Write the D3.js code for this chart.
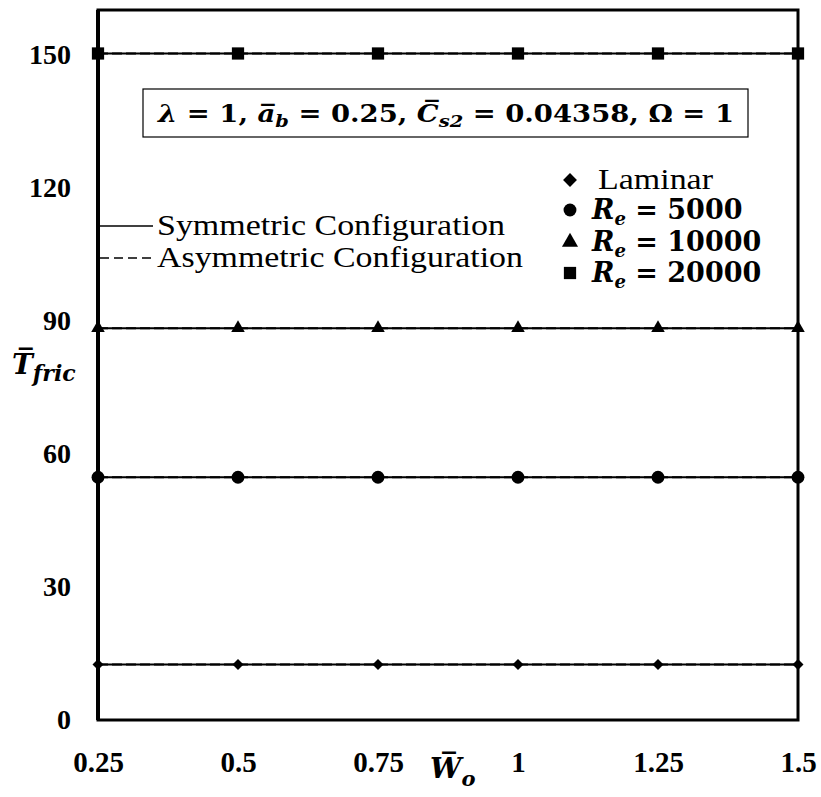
<!DOCTYPE html>
<html>
<head>
<meta charset="utf-8">
<script src="https://cdn.jsdelivr.net/npm/d3@7"></script>
<style>
  body { margin: 0; background: #fff; }
  svg { display: block; }
</style>
</head>
<body>
<div id="chart"></div>
<script>
// data
const wo = [0.25, 0.5, 0.75, 1, 1.25, 1.5]
const laminarSym = [12.5, 12.5, 12.5, 12.5, 12.5, 12.5]
const laminarAsym = [12.5, 12.5, 12.5, 12.5, 12.5, 12.5]
const re5000Sym = [54.7, 54.7, 54.7, 54.7, 54.7, 54.7]
const re5000Asym = [54.7, 54.7, 54.7, 54.7, 54.7, 54.7]
const re10000Sym = [88.3, 88.3, 88.3, 88.3, 88.3, 88.3]
const re10000Asym = [88.3, 88.3, 88.3, 88.3, 88.3, 88.3]
const re20000Sym = [150.2, 150.2, 150.2, 150.2, 150.2, 150.2]
const re20000Asym = [150.2, 150.2, 150.2, 150.2, 150.2, 150.2]
const yTicks = [0, 30, 60, 90, 120, 150]
const xTicks = [0.25, 0.5, 0.75, 1, 1.25, 1.5]

const series = [
    {name: 'Laminar', sym: laminarSym, asym: laminarAsym, shape: 'diamond'},
    {name: '5000', sym: re5000Sym, asym: re5000Asym, shape: 'circle'},
    {name: '10000', sym: re10000Sym, asym: re10000Asym, shape: 'triangle'},
    {name: '20000', sym: re20000Sym, asym: re20000Asym, shape: 'square'}
]

const width = 821
const height = 797
const margin = {left: 98, right: 23, top: 10, bottom: 77}

const x = d3.scaleLinear().domain([0.25, 1.5]).range([margin.left, width - margin.right])
const y = d3.scaleLinear().domain([0, 160]).range([height - margin.bottom, margin.top])

const symbolFor = (shape, k = 1) => {
    if (shape === 'circle') return d3.symbol(d3.symbolCircle, 130 * k)
    if (shape === 'triangle') return d3.symbol(d3.symbolTriangle, 80 * k)
    if (shape === 'square') return d3.symbol(d3.symbolSquare, 150 * k)
    return d3.symbol(d3.symbolSquare, 60 * k)
}

const svg = d3.select('#chart').append('svg')
    .attr('width', width)
    .attr('height', height)

//axes
const yAxis = svg.append('g')
    .attr('transform', `translate(${margin.left},0)`)
    .call(d3.axisLeft(y).tickValues(yTicks).tickSize(0).tickPadding(27).tickFormat(d3.format('d')))
yAxis.select('.domain').remove()

const xAxis = svg.append('g')
    .attr('transform', `translate(0,${height - margin.bottom})`)
    .call(d3.axisBottom(x).tickValues(xTicks).tickSize(0).tickPadding(31).tickFormat((d) => d3.format('')(d)))
xAxis.select('.domain').remove()

svg.selectAll('.tick text')
    .attr('font-family', 'Liberation Serif')
    .attr('font-weight', 'bold')
    .attr('fill', '#000')
yAxis.selectAll('.tick text').attr('font-size', 28)
xAxis.selectAll('.tick text').attr('font-size', 29)

//lines
const line = d3.line()
    .x((d, i) => x(wo[i]))
    .y((d) => y(d))

series.forEach((s) => {
    svg.append('path')
        .datum(s.sym)
        .attr('d', line)
        .attr('fill', 'none')
        .attr('stroke', '#000')
        .attr('stroke-width', 2)
    svg.append('path')
        .datum(s.asym)
        .attr('d', line)
        .attr('fill', 'none')
        .attr('stroke', '#000')
        .attr('stroke-width', 2)
        .attr('stroke-dasharray', '10,4')
    svg.append('g')
        .selectAll('path')
        .data(s.sym)
        .enter()
        .append('path')
        .attr('d', symbolFor(s.shape))
        .attr('transform', (d, i) => `translate(${x(wo[i])},${y(d)})` + (s.shape === 'diamond' ? ' rotate(45)' : ''))
        .attr('fill', '#000')
})

//frame
svg.append('rect')
    .attr('x', x(0.25))
    .attr('y', y(160))
    .attr('width', x(1.5) - x(0.25))
    .attr('height', y(0) - y(160))
    .attr('fill', 'none')
    .attr('stroke', '#000')
    .attr('stroke-width', 3)
svg.append('line')
    .attr('x1', x(0.25)).attr('x2', x(0.25))
    .attr('y1', y(160)).attr('y2', y(0))
    .attr('stroke', '#000')
    .attr('stroke-width', 4)

//parameter box
svg.append('rect')
    .attr('x', 143).attr('y', 89)
    .attr('width', 605).attr('height', 48)
    .attr('fill', '#fff')
    .attr('stroke', '#000')
    .attr('stroke-width', 1.2)
const param = svg.append('text')
    .attr('x', 158).attr('y', 122)
    .attr('font-family', 'DejaVu Serif')
    .attr('font-weight', 'bold')
    .attr('font-size', 24)
    .attr('textLength', 576)
    .attr('lengthAdjust', 'spacingAndGlyphs')
param.append('tspan').attr('font-style', 'italic').text('λ')
param.append('tspan').text(' = 1, ')
param.append('tspan').attr('font-style', 'italic').text('a\u0305')
param.append('tspan').attr('font-style', 'italic').attr('font-size', 17).attr('dy', 5).text('b')
param.append('tspan').attr('dy', -5).text(' = 0.25, ')
param.append('tspan').attr('font-style', 'italic').text('C\u0305')
param.append('tspan').attr('font-style', 'italic').attr('font-size', 17).attr('dy', 5).text('s2')
param.append('tspan').attr('dy', -5).text(' = 0.04358, Ω = 1')

//configuration legend
const confLegend = [
    {label: 'Symmetric Configuration', dash: null, y: 226, len: 348},
    {label: 'Asymmetric Configuration', dash: '9,5', y: 258, len: 366}
]
confLegend.forEach((c) => {
    svg.append('line')
        .attr('x1', 100).attr('x2', 153)
        .attr('y1', c.y).attr('y2', c.y)
        .attr('stroke', '#000')
        .attr('stroke-width', 1.5)
        .attr('stroke-dasharray', c.dash)
    svg.append('text')
        .attr('x', 157).attr('y', c.y + 9)
        .attr('font-family', 'Liberation Serif')
        .attr('font-size', 29)
        .attr('textLength', c.len)
        .attr('lengthAdjust', 'spacingAndGlyphs')
        .text(c.label)
})

//marker legend
const legendY = [180, 210, 242, 273]
series.forEach((s, i) => {
    svg.append('path')
        .attr('d', symbolFor(s.shape, s.shape === 'diamond' ? 1.6 : s.shape === 'triangle' ? 1.4 : 1))
        .attr('transform', `translate(570,${legendY[i]})` + (s.shape === 'diamond' ? ' rotate(45)' : ''))
        .attr('fill', '#000')
    const t = svg.append('text')
        .attr('x', 592).attr('y', legendY[i] + 9)
        .attr('font-size', 27)
    if (s.shape === 'diamond') {
        t.attr('font-family', 'Liberation Serif').attr('font-size', 30).attr('x', 598).attr('y', legendY[i] + 9)
            .attr('textLength', 115).attr('lengthAdjust', 'spacingAndGlyphs').text('Laminar')
    } else {
        t.attr('font-family', 'DejaVu Serif').attr('font-weight', 'bold')
        t.append('tspan').attr('font-style', 'italic').text('R')
        t.append('tspan').attr('font-style', 'italic').attr('font-size', 18).attr('dy', 6).text('e')
        t.append('tspan').attr('dy', -6).text(' = ' + s.name)
    }
})

//axis titles
const yTitle = svg.append('text')
    .attr('x', 12).attr('y', 374)
    .attr('font-family', 'DejaVu Serif')
    .attr('font-weight', 'bold')
    .attr('font-style', 'italic')
    .attr('font-size', 28)
yTitle.append('tspan').text('T\u0305')
yTitle.append('tspan').attr('font-size', 22).attr('dy', 7).text('fric')

const xTitle = svg.append('text')
    .attr('x', 430).attr('y', 778)
    .attr('font-family', 'DejaVu Serif')
    .attr('font-weight', 'bold')
    .attr('font-style', 'italic')
    .attr('font-size', 28)
xTitle.append('tspan').text('W\u0305')
xTitle.append('tspan').attr('font-size', 21).attr('dy', 8).text('o')
</script>
</body>
</html>
